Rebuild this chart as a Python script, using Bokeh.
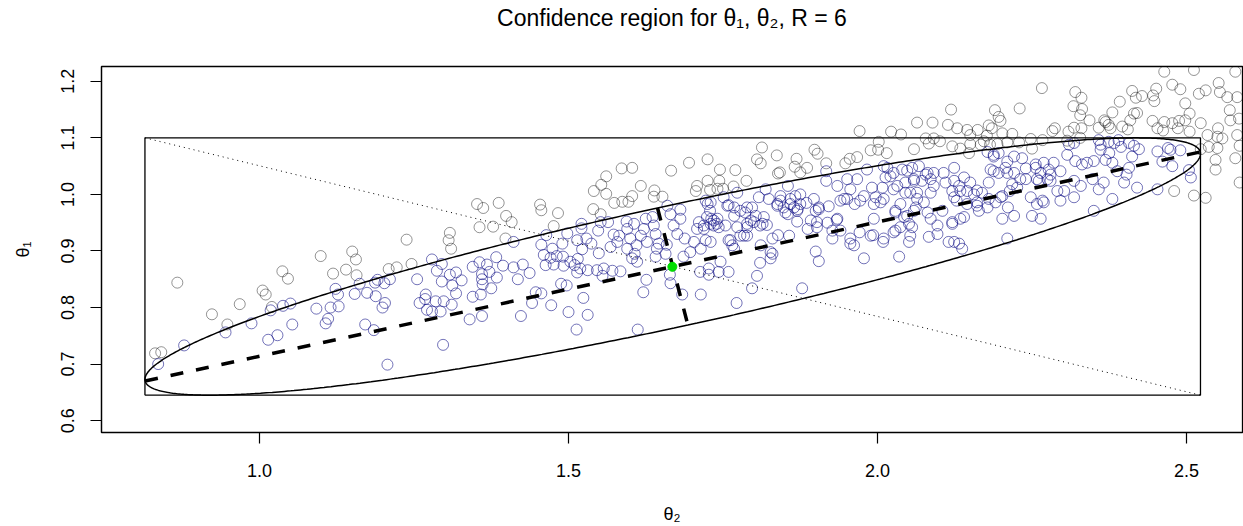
import numpy as np
from bokeh.plotting import figure
from bokeh.models import FixedTicker, Range1d, CustomJSTickFormatter, Title
from bokeh.embed import file_html
from bokeh.resources import INLINE

# ---------------- data ----------------
title_text = "Confidence region for θ₁, θ₂, R = 6"
x_label = "θ₂"
y_label = "θ₁"
x_ticks = [1.0, 1.5, 2.0, 2.5]
x_tick_labels = ["1.0", "1.5", "2.0", "2.5"]
y_ticks = [0.6, 0.7, 0.8, 0.9, 1.0, 1.1, 1.2]
y_tick_labels = ["0.6", "0.7", "0.8", "0.9", "1.0", "1.1", "1.2"]

# estimate (green point) and confidence-ellipse parameters (theta2 on x, theta1 on y)
estimate_theta2 = 1.668
estimate_theta1 = 0.872
center_theta2 = 1.6686
center_theta1 = 0.8725
halfwidth_theta2 = 0.854
halfwidth_theta1 = 0.2275
correlation = 0.877

# samples outside the region (grey): (theta2, theta1)
outside_points = [
    (0.867, 0.844), (0.831, 0.719), (0.841, 0.721), (0.923, 0.788), (0.948, 0.770), (0.968, 0.806),
    (1.005, 0.830), (1.010, 0.823), (1.037, 0.864), (1.046, 0.851), (1.020, 0.801), (1.099, 0.891),
    (1.119, 0.860), (1.140, 0.867), (1.150, 0.899), (1.156, 0.885), (1.157, 0.857), (1.209, 0.868),
    (1.222, 0.871), (1.238, 0.920), (1.246, 0.877), (1.308, 0.932), (1.306, 0.919), (1.310, 0.904),
    (1.352, 0.983), (1.362, 0.976), (1.387, 0.985), (1.356, 0.942), (1.378, 0.943), (1.399, 0.962),
    (1.408, 0.951), (1.398, 0.922), (1.454, 0.982), (1.456, 0.972), (1.483, 0.967), (1.476, 0.944),
    (1.541, 1.006), (1.553, 1.017), (1.561, 1.032), (1.561, 1.001), (1.574, 0.985), (1.586, 1.046),
    (1.603, 1.047), (1.587, 0.987), (1.597, 0.987), (1.603, 0.997), (1.617, 1.015), (1.639, 1.007),
    (1.638, 0.996), (1.666, 1.042), (1.695, 1.056), (1.725, 1.062), (1.708, 1.015), (1.706, 1.006),
    (1.729, 1.008), (1.540, 0.974), (1.552, 0.965), (1.652, 0.996), (1.725, 1.024),
    (1.745, 1.044), (1.744, 1.024), (1.741, 1.010), (1.750, 1.010), (1.767, 1.014), (1.770, 1.043),
    (1.788, 1.024), (1.805, 1.062), (1.813, 1.083), (1.811, 1.055), (1.837, 1.069), (1.842, 1.039),
    (1.839, 1.037), (1.866, 1.049), (1.869, 1.063), (1.875, 1.039), (1.886, 1.047), (1.898, 1.079),
    (1.903, 1.072), (1.917, 1.055), (1.948, 1.055), (1.955, 1.063), (1.967, 1.066), (1.971, 1.112),
    (2.002, 1.093), (2.001, 1.079), (1.989, 1.078), (2.015, 1.073), (2.022, 1.111), (2.038, 1.106),
    (2.059, 1.080), (2.064, 1.127),
    (2.266, 1.188), (2.320, 1.181), (2.330, 1.171), (2.317, 1.156), (2.331, 1.151), (2.328, 1.140),
    (2.343, 1.131), (2.380, 1.145), (2.367, 1.131), (2.374, 1.123), (2.119, 1.150), (2.190, 1.149),
    (2.196, 1.137), (2.199, 1.130), (2.230, 1.152), (2.089, 1.127), (2.114, 1.123), (2.129, 1.117),
    (2.145, 1.114), (2.162, 1.114), (2.150, 1.105), (2.180, 1.122), (2.185, 1.117), (2.177, 1.104),
    (2.202, 1.108), (2.218, 1.107), (2.078, 1.099), (2.091, 1.099), (2.083, 1.090), (2.101, 1.094),
    (2.121, 1.085), (2.134, 1.081), (2.150, 1.089), (2.167, 1.088), (2.194, 1.089), (2.182, 1.088),
    (2.148, 1.073), (2.172, 1.094), (2.229, 1.092), (2.248, 1.098), (2.250, 1.081), (2.267, 1.096),
    (2.283, 1.112), (2.287, 1.117), (2.309, 1.111), (2.318, 1.118), (2.330, 1.117), (2.307, 1.095),
    (2.328, 1.100), (2.358, 1.118), (2.210, 1.092),
    (2.464, 1.217), (2.512, 1.220), (2.579, 1.217), (2.477, 1.194), (2.490, 1.186), (2.520, 1.178),
    (2.531, 1.184), (2.552, 1.197), (2.554, 1.181), (2.566, 1.172), (2.582, 1.172), (2.412, 1.183),
    (2.418, 1.171), (2.428, 1.174), (2.446, 1.175), (2.448, 1.165), (2.451, 1.187), (2.392, 1.164),
    (2.415, 1.143), (2.420, 1.144), (2.409, 1.131), (2.498, 1.161), (2.505, 1.143), (2.498, 1.131),
    (2.488, 1.130), (2.477, 1.126), (2.464, 1.128), (2.445, 1.130), (2.453, 1.117), (2.462, 1.113),
    (2.486, 1.117), (2.505, 1.111), (2.523, 1.126), (2.534, 1.105), (2.551, 1.117), (2.550, 1.102),
    (2.558, 1.099), (2.570, 1.149), (2.571, 1.131), (2.585, 1.134), (2.582, 1.105), (2.586, 1.086),
    (2.579, 1.064), (2.586, 1.021), (2.523, 1.080), (2.536, 1.084), (2.550, 1.082), (2.547, 1.061),
    (2.547, 1.044), (2.512, 0.998), (2.531, 0.994), (2.480, 1.006), (2.396, 1.120), (2.405, 1.115),
    (2.377, 1.117), (2.369, 1.128),
]

# samples inside the region (blue): (theta2, theta1)
inside_points = [
    (0.836, 0.700), (0.878, 0.733), (0.945, 0.756), (0.987, 0.772), (1.014, 0.743), (1.029, 0.751),
    (1.018, 0.795), (1.038, 0.803), (1.050, 0.807), (1.053, 0.770), (1.092, 0.798),
    (1.115, 0.800), (1.128, 0.802), (1.111, 0.780), (1.107, 0.772), (1.123, 0.833), (1.127, 0.823),
    (1.154, 0.824), (1.162, 0.842), (1.174, 0.826), (1.188, 0.820), (1.187, 0.844), (1.191, 0.849),
    (1.202, 0.843), (1.211, 0.850), (1.203, 0.808), (1.199, 0.800), (1.171, 0.770), (1.185, 0.760),
    (1.255, 0.850), (1.269, 0.823), (1.268, 0.815), (1.259, 0.808), (1.271, 0.796), (1.279, 0.793),
    (1.285, 0.811), (1.298, 0.811), (1.293, 0.793), (1.311, 0.805), (1.318, 0.825), (1.312, 0.839),
    (1.295, 0.846), (1.308, 0.858), (1.318, 0.862), (1.327, 0.848), (1.287, 0.865), (1.295, 0.877),
    (1.279, 0.885), (1.297, 0.734), (1.207, 0.699), (1.340, 0.779), (1.360, 0.785), (1.345, 0.819),
    (1.358, 0.823), (1.375, 0.834), (1.361, 0.841), (1.360, 0.850), (1.384, 0.853), (1.360, 0.859),
    (1.372, 0.863), (1.368, 0.876), (1.356, 0.880), (1.345, 0.872), (1.383, 0.889), (1.394, 0.874),
    (1.411, 0.871), (1.418, 0.850), (1.411, 0.916), (1.423, 0.785),
    (1.426, 0.876), (1.437, 0.861), (1.456, 0.911), (1.464, 0.928), (1.474, 0.904), (1.460, 0.893),
    (1.471, 0.888), (1.481, 0.891), (1.491, 0.890), (1.463, 0.875), (1.476, 0.876), (1.492, 0.874),
    (1.503, 0.881), (1.515, 0.886), (1.510, 0.875), (1.519, 0.869), (1.531, 0.866), (1.514, 0.862),
    (1.546, 0.866), (1.557, 0.869), (1.571, 0.865), (1.584, 0.864), (1.555, 0.856), (1.529, 0.922),
    (1.522, 0.903), (1.537, 0.913), (1.549, 0.896), (1.490, 0.913), (1.498, 0.931), (1.514, 0.919),
    (1.521, 0.948), (1.521, 0.940), (1.552, 0.951), (1.564, 0.951), (1.548, 0.936), (1.573, 0.929),
    (1.582, 0.927), (1.568, 0.907), (1.579, 0.916), (1.594, 0.952), (1.595, 0.939), (1.606, 0.948),
    (1.600, 0.922), (1.610, 0.910), (1.595, 0.904), (1.607, 0.895), (1.625, 0.957), (1.636, 0.960),
    (1.638, 0.945), (1.622, 0.939), (1.617, 0.927), (1.627, 0.916), (1.641, 0.930), (1.643, 0.904),
    (1.646, 0.913), (1.659, 0.911), (1.641, 0.890), (1.657, 0.895), (1.660, 0.980), (1.665, 0.965),
    (1.681, 0.973), (1.681, 0.957), (1.670, 0.945), (1.676, 0.930), (1.688, 0.922), (1.703, 0.916),
    (1.697, 0.898), (1.686, 0.890), (1.708, 0.939), (1.711, 0.951), (1.719, 0.939), (1.725, 0.983),
    (1.729, 0.971), (1.731, 0.957), (1.735, 0.945), (1.722, 0.919), (1.714, 0.904), (1.713, 0.863),
    (1.727, 0.858), (1.665, 0.843), (1.664, 0.858), (1.684, 0.823), (1.714, 0.823), (1.626, 0.849),
    (1.621, 0.827), (1.611, 0.881), (1.603, 0.887), (1.447, 0.827), (1.456, 0.825), (1.441, 0.808),
    (1.472, 0.804), (1.488, 0.842), (1.497, 0.839), (1.524, 0.817), (1.500, 0.792), (1.531, 0.787),
    (1.513, 0.761), (1.612, 0.761),
    (1.722, 0.989), (1.730, 0.986), (1.740, 0.948), (1.735, 0.954), (1.751, 0.995), (1.754, 0.945),
    (1.759, 0.981), (1.768, 0.962), (1.773, 1.003), (1.773, 0.942), (1.778, 0.927), (1.786, 0.968),
    (1.789, 0.948), (1.797, 0.977), (1.800, 0.951), (1.808, 0.995), (1.810, 0.945), (1.819, 1.009),
    (1.821, 0.946), (1.824, 0.992), (1.838, 0.983), (1.839, 0.928), (1.843, 0.997), (1.848, 0.977),
    (1.855, 1.015), (1.855, 0.965), (1.859, 0.983), (1.867, 0.997), (1.871, 0.974), (1.870, 0.952),
    (1.875, 1.000), (1.885, 0.985), (1.887, 0.939), (1.897, 0.992), (1.905, 0.974), (1.902, 0.951),
    (1.917, 1.041), (1.917, 1.024), (1.921, 0.979), (1.919, 0.950), (1.934, 0.955), (1.935, 1.015),
    (1.946, 0.992), (1.951, 1.027), (1.956, 1.009), (1.963, 0.983), (1.967, 1.027), (1.971, 0.933),
    (1.956, 0.913), (1.940, 0.936), (1.927, 0.922), (1.978, 0.997), (1.983, 1.044), (1.994, 0.957),
    (1.993, 0.928), (1.991, 1.012), (2.005, 0.986), (2.010, 1.050), (2.009, 0.916), (2.008, 1.012),
    (2.021, 1.032), (2.026, 1.009), (2.029, 0.968), (2.029, 0.936), (2.037, 0.983), (2.040, 1.044),
    (2.045, 1.003), (2.053, 0.927), (2.051, 0.916), (2.059, 1.027), (2.064, 0.992), (2.067, 1.050),
    (2.035, 0.890), (1.978, 0.887), (1.962, 0.910), (1.900, 0.899), (1.905, 0.882), (1.878, 0.834),
    (1.805, 0.856), (1.810, 0.879), (1.797, 0.834), (1.827, 0.887), (1.830, 0.895), (1.772, 0.808),
    (1.759, 0.863), (1.743, 0.863), (1.727, 0.869), (1.730, 0.916), (1.762, 0.919), (1.768, 0.904),
    (1.830, 0.922), (1.857, 0.927), (1.811, 0.910), (1.789, 0.927),
    (1.730, 0.948), (1.741, 0.957), (1.743, 0.942), (1.724, 0.960), (1.719, 0.945), (1.795, 0.954),
    (1.814, 0.948), (1.803, 0.962), (1.789, 0.942), (1.816, 0.960), (1.843, 0.989), (1.859, 0.992),
    (1.865, 0.977), (1.870, 0.971), (1.851, 0.968), (1.838, 0.980), (1.875, 0.983), (1.778, 0.971),
    (1.768, 0.977), (1.757, 0.980), (1.789, 0.977), (1.900, 0.971), (1.905, 0.977), (1.892, 0.954),
    (1.902, 0.942), (1.940, 0.989), (1.951, 0.992), (1.935, 0.957), (1.927, 0.936), (1.956, 0.922),
    (1.972, 0.989), (1.994, 0.983), (1.997, 0.995), (1.989, 0.927), (1.759, 0.919), (1.765, 0.910),
    (1.784, 0.927), (1.827, 0.898), (1.746, 0.881),
    (2.048, 1.042), (2.056, 1.047), (2.078, 1.035), (2.072, 1.024), (2.086, 1.027), (2.091, 1.038),
    (2.107, 1.038), (2.124, 1.047), (2.110, 1.021), (2.124, 1.024), (2.140, 1.030), (2.150, 1.021),
    (2.121, 1.006), (2.134, 1.006), (2.161, 1.007), (2.169, 1.003), (2.180, 1.021), (2.178, 1.075),
    (2.188, 1.070), (2.196, 1.073), (2.188, 1.041), (2.196, 1.038), (2.210, 1.038), (2.210, 1.058),
    (2.221, 1.067), (2.234, 1.064), (2.240, 1.046), (2.240, 1.027), (2.226, 1.012), (2.214, 1.006),
    (2.199, 0.995), (2.180, 0.992), (2.161, 0.980), (2.145, 0.983), (2.128, 0.989), (2.105, 0.971),
    (2.086, 0.957), (2.062, 0.977), (2.048, 0.962), (2.056, 0.942), (2.083, 0.925), (2.097, 0.930),
    (2.121, 0.951), (2.124, 0.916), (2.132, 0.913), (2.137, 0.904), (2.140, 0.960), (2.164, 0.971),
    (2.178, 0.977), (2.202, 0.957), (2.210, 0.922), (2.221, 0.962), (2.211, 0.977), (2.250, 0.962),
    (2.264, 0.957), (2.267, 0.989), (2.258, 0.983), (2.256, 1.053), (2.269, 1.056), (2.285, 1.056),
    (2.280, 1.035), (2.296, 1.041), (2.307, 1.070), (2.320, 1.059), (2.331, 1.053), (2.339, 1.056),
    (2.350, 1.059), (2.310, 1.088), (2.318, 1.091), (2.358, 1.096), (2.361, 1.079), (2.375, 1.073),
    (2.383, 1.091), (2.318, 1.024), (2.329, 1.015), (2.348, 1.027), (2.358, 1.009), (2.388, 1.041),
    (2.302, 1.006), (2.291, 1.006), (2.296, 0.989), (2.318, 0.995), (2.380, 0.992), (2.350, 0.971),
    (2.258, 1.027), (2.275, 1.027),
    (2.016, 1.047), (2.026, 1.038), (2.013, 1.030), (2.045, 1.021), (2.059, 1.024), (2.032, 1.015),
    (2.064, 1.003), (2.053, 1.003), (2.010, 0.992), (2.029, 0.971), (2.059, 0.971), (2.043, 0.960),
    (2.051, 0.948), (2.037, 0.942), (2.026, 0.933), (2.010, 0.922), (2.081, 0.968), (2.075, 0.986),
    (2.086, 1.003), (2.091, 1.015), (2.081, 1.038), (2.132, 1.015), (2.145, 1.006), (2.124, 0.995),
    (2.156, 1.000), (2.161, 0.986), (2.097, 0.945), (2.121, 0.948), (2.134, 0.957), (2.115, 0.916),
    (2.188, 1.067), (2.183, 1.044), (2.207, 1.047), (2.221, 1.038), (2.231, 1.027), (2.218, 1.018),
    (2.256, 1.047), (2.264, 1.038), (2.277, 1.044), (2.261, 1.024), (2.280, 1.024), (2.269, 0.986),
    (2.248, 0.995), (2.202, 0.997), (2.191, 0.986),
    (2.361, 1.088), (2.374, 1.093), (2.390, 1.096), (2.394, 1.084), (2.407, 1.091), (2.415, 1.086),
    (2.423, 1.080), (2.369, 1.061), (2.380, 1.056), (2.412, 1.067), (2.407, 1.047), (2.403, 1.035),
    (2.366, 1.021), (2.399, 1.021), (2.420, 1.012), (2.453, 1.076), (2.470, 1.082), (2.474, 1.079),
    (2.490, 1.078), (2.461, 1.058), (2.477, 1.050), (2.504, 1.043), (2.507, 1.030), (2.453, 1.009),
]

# ---------------- geometry of the confidence region ----------------
out_arr = np.array(outside_points)
in_arr = np.array(inside_points)

center = np.array([center_theta2, center_theta1])
cov = np.array([
    [halfwidth_theta2 ** 2, correlation * halfwidth_theta2 * halfwidth_theta1],
    [correlation * halfwidth_theta2 * halfwidth_theta1, halfwidth_theta1 ** 2],
])
evals, evecs = np.linalg.eigh(cov)
t = np.linspace(0, 2 * np.pi, 721)
unit = np.vstack([np.cos(t), np.sin(t)])
ell = evecs @ np.diag(np.sqrt(evals)) @ unit + center[:, None]

xmin, xmax = center_theta2 - halfwidth_theta2, center_theta2 + halfwidth_theta2
ymin, ymax = center_theta1 - halfwidth_theta1, center_theta1 + halfwidth_theta1

major_a = center - np.sqrt(evals[1]) * evecs[:, 1]
major_b = center + np.sqrt(evals[1]) * evecs[:, 1]
minor_a = center + np.sqrt(evals[0]) * evecs[:, 0]
minor_b = center - np.sqrt(evals[0]) * evecs[:, 0]
if major_a[0] > major_b[0]:
    major_a, major_b = major_b, major_a
if minor_a[1] < minor_b[1]:
    minor_a, minor_b = minor_b, minor_a

# ---------------- figure ----------------
FONT = "Liberation Sans"
p = figure(width=1243, height=526,
           x_range=Range1d(0.7443, 2.5906), y_range=Range1d(0.579, 1.2262),
           output_backend="svg", toolbar_location=None,
           min_border_left=101, min_border_right=1, min_border_top=66, min_border_bottom=91)
p.background_fill_color = "white"
p.border_fill_color = "white"
p.outline_line_color = "black"
p.outline_line_width = 1.3
p.grid.visible = False
p.title.text = ""

# spacer panel between the frame and the title (pushes the title to the top of the page)
p.add_layout(Title(text=" ", text_font=FONT, text_font_size="20px", standoff=8), "above")
p.add_layout(Title(text=title_text, align="center", vertical_align="top", text_font=FONT,
                   text_font_size="23px", text_font_style="normal", text_color="black",
                   standoff=4), "above")

LABEL_CODE = """
let best = 0;
for (let i = 0; i < tick_values.length; i++) {
  if (Math.abs(tick_values[i] - tick) < Math.abs(tick_values[best] - tick)) best = i;
}
return tick_texts[best];
"""

for ax, tvals, tlabels, lab in ((p.xaxis[0], x_ticks, x_tick_labels, x_label),
                                (p.yaxis[0], y_ticks, y_tick_labels, y_label)):
    ax.ticker = FixedTicker(ticks=tvals)
    ax.formatter = CustomJSTickFormatter(args=dict(tick_values=tvals, tick_texts=tlabels), code=LABEL_CODE)
    ax.axis_label = lab
    ax.axis_label_text_font = FONT
    ax.axis_label_text_font_size = "18px"
    ax.axis_label_text_font_style = "normal"
    ax.axis_label_text_color = "black"
    ax.major_label_text_font = FONT
    ax.major_label_text_font_size = "18px"
    ax.major_label_text_color = "black"
    ax.major_tick_out = 11
    ax.major_tick_in = 0
    ax.major_tick_line_color = "black"
    ax.major_tick_line_width = 1.2
    ax.minor_tick_line_color = None
    ax.axis_line_color = "black"
    ax.axis_line_width = 1.2

p.xaxis.major_label_standoff = 20
p.xaxis.axis_label_standoff = 24
p.yaxis.major_label_standoff = 16
p.yaxis.axis_label_standoff = 26
p.yaxis.major_label_orientation = "vertical"

# samples
p.scatter(out_arr[:, 0], out_arr[:, 1], marker="circle", size=11, fill_color=None,
          line_color="#000000", line_alpha=0.42, line_width=1)
p.scatter(in_arr[:, 0], in_arr[:, 1], marker="circle", size=11, fill_color=None,
          line_color="#000080", line_alpha=0.55, line_width=1)

# confidence ellipse, bounding box, diagonal
p.line(ell[0], ell[1], line_color="black", line_width=1.5)
p.line([xmin, xmax, xmax, xmin, xmin], [ymin, ymin, ymax, ymax, ymin], line_color="black", line_width=1.3)
p.line([xmin, xmax], [ymax, ymin], line_color="black", line_width=1, line_dash="1 4")

# principal axes
p.line([major_a[0], major_b[0]], [major_a[1], major_b[1]], line_color="black", line_width=3.5, line_dash="13 13")
p.line([minor_a[0], minor_b[0]], [minor_a[1], minor_b[1]], line_color="black", line_width=3.5, line_dash="13 13")

# estimate
p.scatter([estimate_theta2], [estimate_theta1], marker="circle", size=9,
          fill_color="#00dd00", line_color="#00dd00")

open("out.html", "w").write(file_html(p, INLINE))
